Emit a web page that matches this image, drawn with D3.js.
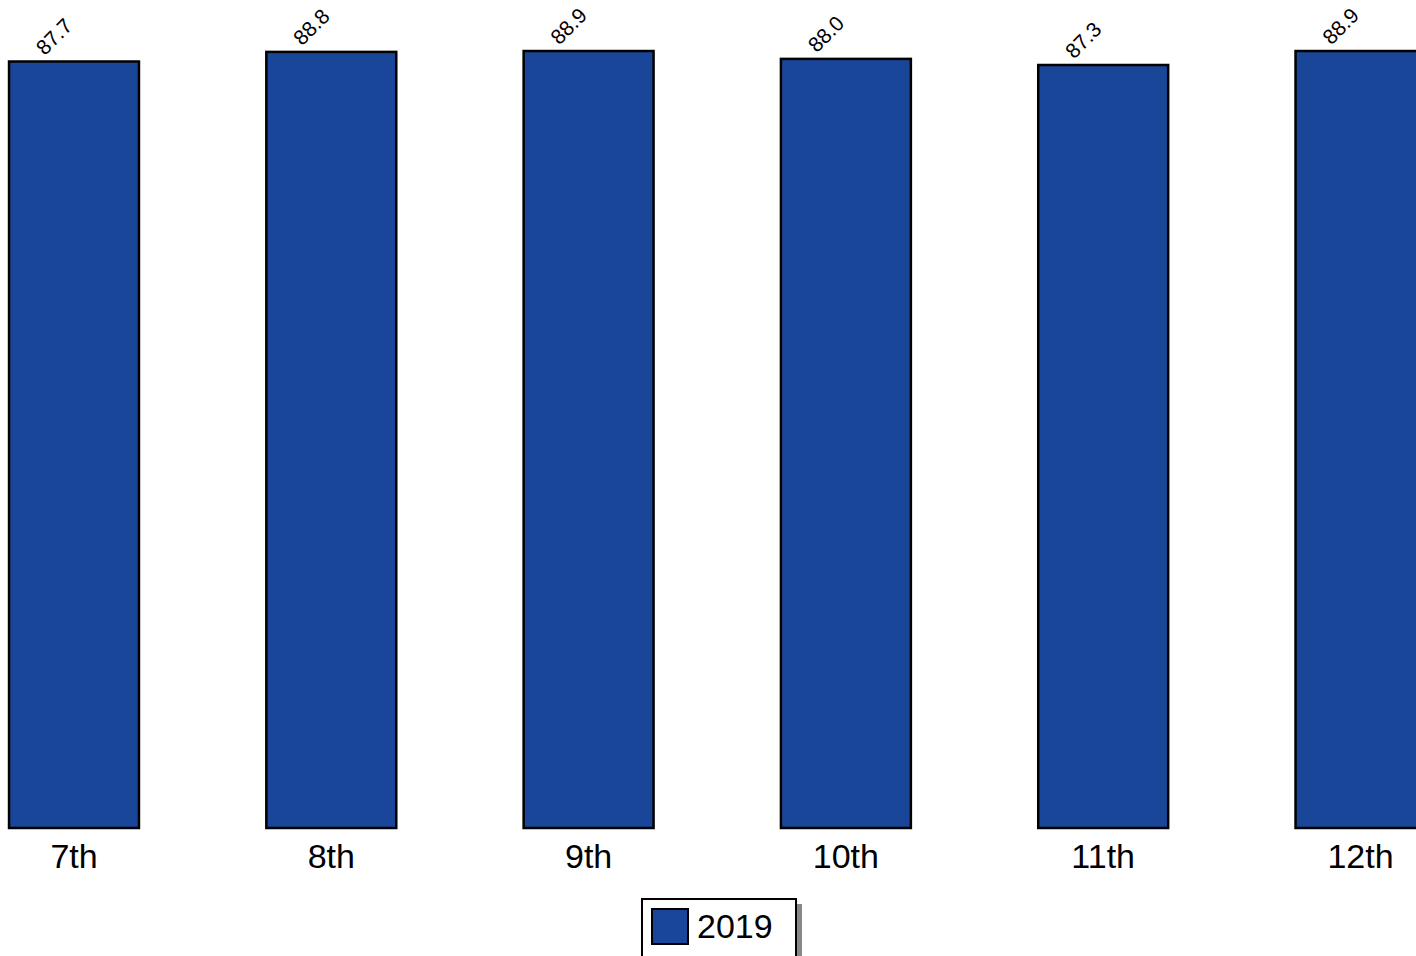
<!DOCTYPE html>
<html><head><meta charset="utf-8">
<script src="https://cdn.jsdelivr.net/npm/d3@7"></script>
<style>body{margin:0;background:#fff;overflow:hidden}svg{display:block}</style>
</head><body>
<svg id="c" width="1416" height="956"></svg>
<script>
const categories = ["7th","8th","9th","10th","11th","12th"];
const values2019 = [87.7, 88.8, 88.9, 88.0, 87.3, 88.9];
const seriesName = "2019";

const svg = d3.select("#c");
const font = "'Liberation Sans', Arial, sans-serif";
const barColor = "#1a4699";

const x = d3.scaleBand().domain(categories)
  .range([-54.65, -54.65 + 6*257.3]).paddingInner(0.495).paddingOuter(0.2475);
const y = d3.scaleLinear().domain([0, 100]).range([828, 828 - 874]);

svg.selectAll("rect.bar").data(values2019).join("rect")
  .attr("class","bar")
  .attr("x",(d,i)=>x(categories[i]))
  .attr("y",d=>y(d))
  .attr("width",x.bandwidth())
  .attr("height",d=>y(0)-y(d))
  .attr("fill",barColor).attr("stroke","#000").attr("stroke-width",2.5);

svg.selectAll("text.val").data(values2019).join("text")
  .attr("class","val")
  .attr("transform",(d,i)=>{const cx=x(categories[i])+x.bandwidth()/2; return `translate(${cx-20},${y(d)-25}) rotate(-45)`;})
  .attr("text-anchor","middle").attr("dy","0.35em")
  .attr("font-family",font).attr("font-size",21).attr("fill","#000")
  .text(d=>d.toFixed(1));

const xAxis = d3.axisBottom(x).tickSize(0).tickPadding(0);
const gx = svg.append("g").attr("transform","translate(0,828)").call(xAxis);
gx.select(".domain").remove();
gx.selectAll("text").attr("font-family",font).attr("font-size",34).attr("fill","#000")
  .attr("dy",null).attr("y",40);

// legend
const lg = svg.append("g");
lg.append("rect").attr("x",647).attr("y",904).attr("width",155).attr("height",60).attr("fill","#888");
lg.append("rect").attr("x",642).attr("y",899).attr("width",154).attr("height",60).attr("fill","#fff").attr("stroke","#000").attr("stroke-width",2);
lg.append("rect").attr("x",652).attr("y",909).attr("width",36).attr("height",35).attr("fill",barColor).attr("stroke","#000").attr("stroke-width",2);
lg.append("text").attr("x",697).attr("y",938).attr("font-family",font).attr("font-size",34).attr("fill","#000").text(seriesName);
</script>
</body></html>
